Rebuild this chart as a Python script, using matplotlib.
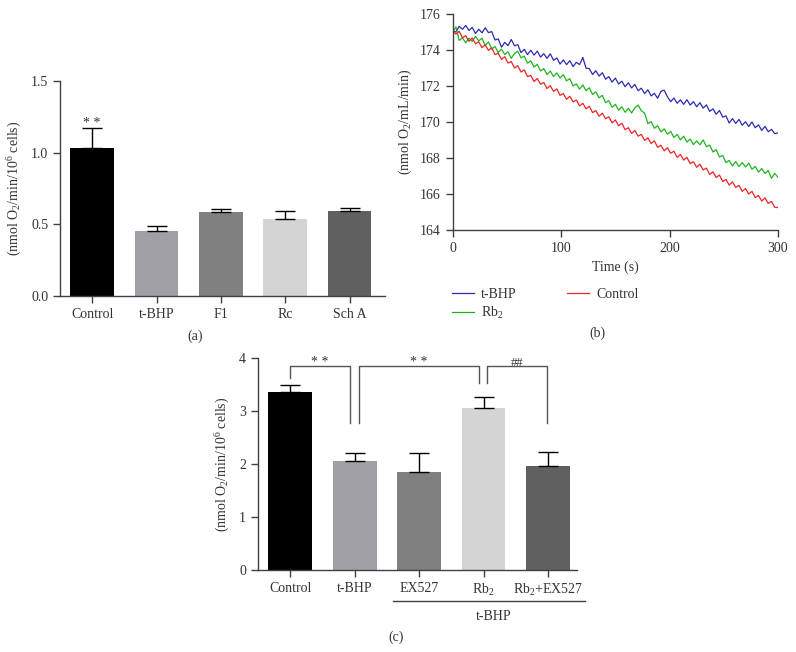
import numpy as np
import matplotlib
matplotlib.use("Agg")
import matplotlib.pyplot as plt
from matplotlib.lines import Line2D
import matplotlib.transforms as mtransforms

plt.rcParams['font.family'] = ['Liberation Serif', 'DejaVu Serif']
plt.rcParams['mathtext.fontset'] = 'custom'
plt.rcParams['mathtext.rm'] = 'Liberation Serif'
plt.rcParams['mathtext.it'] = 'Liberation Serif:italic'
plt.rcParams['font.size'] = 10

# ---------------- data ----------------
# panel (a)
cats_a = ["Control", "t-BHP", "F1", "Rc", "Sch A"]
vals_a = [1.035, 0.455, 0.585, 0.540, 0.590]
errs_a = [0.140, 0.030, 0.025, 0.050, 0.025]
cols_a = ["#000000", "#a0a0a4", "#808080", "#d4d4d4", "#606060"]

# panel (b)
time_b = np.arange(0, 301, 3)
tbhp_b = [175.05, 175.02, 175.33, 175.17, 175.38, 175.10, 175.27, 174.93, 175.17, 174.97,
          175.25, 174.98, 175.04, 174.57, 174.63, 174.17, 174.44, 174.26, 174.60, 174.25,
          174.31, 173.87, 174.05, 173.76, 174.00, 173.73, 173.95, 173.62, 173.81, 173.55,
          173.80, 173.44, 173.57, 173.23, 173.46, 173.20, 173.42, 173.09, 173.33, 173.20,
          173.60, 173.00, 172.98, 172.65, 172.86, 172.56, 172.75, 172.39, 172.53, 172.23,
          172.45, 172.12, 172.28, 171.97, 172.19, 171.90, 172.10, 171.75, 171.89, 171.59,
          171.80, 171.46, 171.60, 171.33, 171.71, 171.78, 171.42, 171.14, 171.34, 171.05,
          171.24, 170.99, 171.25, 170.95, 171.14, 170.86, 171.08, 170.78, 170.96, 170.60,
          170.74, 170.44, 170.65, 170.28, 170.35, 169.95, 170.20, 169.93, 170.15, 169.83,
          170.02, 169.76, 170.01, 169.69, 169.85, 169.54, 169.76, 169.47, 169.60, 169.36,
          169.40]
rb2_b = [175.00, 175.30, 174.55, 174.69, 174.42, 174.67, 174.49, 174.77, 174.52, 174.67,
         174.26, 174.46, 174.07, 174.21, 173.87, 174.06, 173.76, 173.92, 173.55, 173.82,
         173.95, 173.58, 173.67, 173.28, 173.41, 173.06, 173.22, 172.85, 172.98, 172.65,
         172.84, 172.54, 172.74, 172.46, 172.64, 172.30, 172.42, 172.01, 172.13, 171.84,
         172.07, 171.75, 171.91, 171.54, 171.69, 171.36, 171.49, 171.09, 171.19, 170.83,
         170.99, 170.67, 170.85, 170.55, 170.77, 170.51, 170.80, 170.95, 170.63, 170.50,
         169.92, 170.03, 169.66, 169.80, 169.46, 169.63, 169.33, 169.49, 169.15, 169.31,
         169.01, 169.22, 168.89, 169.06, 168.75, 168.96, 168.74, 169.01, 168.64, 168.72,
         168.34, 168.47, 168.06, 168.15, 167.75, 167.87, 167.56, 167.81, 167.53, 167.75,
         167.51, 167.72, 167.38, 167.54, 167.22, 167.42, 167.14, 167.31, 166.88, 167.15,
         166.93]
ctrl_b = [175.05, 174.90, 175.05, 174.70, 174.81, 174.50, 174.68, 174.36, 174.47, 174.14,
          174.30, 173.99, 174.14, 173.76, 173.83, 173.49, 173.64, 173.29, 173.37, 173.01,
          173.14, 172.79, 172.91, 172.53, 172.60, 172.26, 172.43, 172.11, 172.21, 171.87,
          172.03, 171.71, 171.85, 171.49, 171.59, 171.27, 171.44, 171.13, 171.23, 170.90,
          171.05, 170.74, 170.89, 170.53, 170.64, 170.33, 170.50, 170.19, 170.30, 169.96,
          170.12, 169.80, 169.94, 169.58, 169.69, 169.37, 169.54, 169.22, 169.32, 168.98,
          169.13, 168.81, 168.96, 168.60, 168.71, 168.40, 168.58, 168.27, 168.38, 168.04,
          168.20, 167.89, 168.04, 167.69, 167.80, 167.49, 167.66, 167.34, 167.44, 167.09,
          167.24, 166.92, 167.06, 166.70, 166.81, 166.50, 166.68, 166.37, 166.48, 166.15,
          166.31, 166.00, 166.15, 165.80, 165.92, 165.61, 165.79, 165.48, 165.59, 165.26,
          165.25]
series_names_b = ["t-BHP", "Rb$_2$", "Control"]
series_cols_b = ["#2a2ab5", "#1fb41f", "#ee2424"]

# panel (c)
cats_c = ["Control", "t-BHP", "EX527", "Rb$_2$", "Rb$_2$+EX527"]
vals_c = [3.35, 2.05, 1.84, 3.05, 1.96]
errs_c = [0.15, 0.16, 0.37, 0.22, 0.27]
cols_c = ["#000000", "#a0a0a4", "#808080", "#d4d4d4", "#606060"]
sig_labels_c = ["* *", "* *", "##"]

TXT = "#333333"
SP = "#404040"

fig = plt.figure(figsize=(7.96, 6.52), dpi=100)


def style_axes(ax):
    for s in ["top", "right"]:
        ax.spines[s].set_visible(False)
    for s in ["left", "bottom"]:
        ax.spines[s].set_color(SP)
        ax.spines[s].set_linewidth(1.0)
    ax.tick_params(direction="out", length=5, width=1.0, color=SP,
                   labelcolor=TXT, labelsize=10)


# ---------- (a) ----------
axa = fig.add_axes([60/796, 1-296/652, 325/796, 215/652])
xa = np.arange(len(cats_a))
axa.bar(xa, vals_a, width=0.68, color=cols_a, zorder=2)
axa.errorbar(xa, vals_a, yerr=[np.zeros(len(errs_a)), errs_a], fmt="none",
             ecolor="black", elinewidth=1.0, capsize=7, capthick=1.0, zorder=3)
axa.set_xlim(-0.5, 4.55)
axa.set_ylim(0, 1.5)
axa.set_yticks([0, 0.5, 1.0, 1.5])
axa.set_yticklabels(["0.0", "0.5", "1.0", "1.5"])
axa.set_xticks(xa)
axa.set_xticklabels(cats_a)
style_axes(axa)
axa.set_ylabel("(nmol O$_2$/min/10$^6$ cells)", color=TXT, fontsize=10)
axa.yaxis.set_label_coords(-0.112, 0.5)
axa.text(0, vals_a[0] + errs_a[0] - 0.02, "* *", ha="center", va="bottom",
         color=TXT, fontsize=10)
fig.text(195/796, 1-336/652, "(a)", ha="center", va="center", color=TXT, fontsize=10)

# ---------- (b) ----------
axb = fig.add_axes([452.7/796, 1-230/652, 325.3/796, 215.7/652])
handles = []
for ys, nm, c in zip([tbhp_b, rb2_b, ctrl_b], series_names_b, series_cols_b):
    ln, = axb.plot(time_b, ys, color=c, lw=0.9, label=nm)
    handles.append(ln)
axb.set_xlim(0, 300)
axb.set_ylim(164, 176)
axb.set_xticks([0, 100, 200, 300])
axb.set_yticks(np.arange(164, 177, 2))
style_axes(axb)
axb.set_ylabel("(nmol O$_2$/mL/min)", color=TXT, fontsize=10)
axb.yaxis.set_label_coords(-0.120, 0.5)
axb.set_xlabel("Time (s)", color=TXT, fontsize=10, labelpad=4)
leg = fig.legend(handles=handles, labels=series_names_b, ncol=2, frameon=False,
                 loc="upper left", bbox_to_anchor=(452/796, 1-288/652),
                 borderaxespad=0, borderpad=0, handlelength=1.6,
                 handletextpad=0.5, columnspacing=3.6, labelspacing=0.25,
                 fontsize=10)
for t in leg.get_texts():
    t.set_color(TXT)
fig.text(597/796, 1-333/652, "(b)", ha="center", va="center", color=TXT, fontsize=10)

# ---------- (c) ----------
axc = fig.add_axes([258/796, 1-570/652, 319/796, 212/652])
xc = np.arange(len(cats_c))
axc.bar(xc, vals_c, width=0.68, color=cols_c, zorder=2)
axc.errorbar(xc, vals_c, yerr=[np.zeros(len(errs_c)), errs_c], fmt="none",
             ecolor="black", elinewidth=1.0, capsize=7, capthick=1.0, zorder=3)
axc.set_xlim(-0.5, 4.45)
axc.set_ylim(0, 4)
axc.set_yticks([0, 1, 2, 3, 4])
axc.set_xticks(xc)
axc.set_xticklabels(cats_c)
style_axes(axc)
axc.set_ylabel("(nmol O$_2$/min/10$^6$ cells)", color=TXT, fontsize=10)
axc.yaxis.set_label_coords(-0.083, 0.5)

# significance brackets
BR = "#555555"
top = 3.85
brackets = [(0.0, 0.93, 3.62, 2.77), (1.07, 2.93, 2.77, 3.53), (3.05, 3.98, 3.53, 2.77)]
for (x1, x2, y1, y2), lab in zip(brackets, sig_labels_c):
    axc.plot([x1, x1, x2, x2], [y1, top, top, y2], color=BR, lw=1.0,
             clip_on=False, zorder=4)
    axc.text((x1 + x2) / 2, top - 0.05, lab, ha="center", va="bottom",
             color=TXT, fontsize=9 if lab == "##" else 10)

# t-BHP group line under labels
trans = mtransforms.blended_transform_factory(axc.transData, axc.transAxes)
axc.add_line(Line2D([1.59, 4.58], [-0.146, -0.146], transform=trans, color=SP,
                    lw=1.0, clip_on=False))
axc.text(3.15, -0.218, "t-BHP", transform=trans, ha="center", va="center",
         color=TXT, fontsize=10)
fig.text(396/796, 1-637/652, "(c)", ha="center", va="center", color=TXT, fontsize=10)

fig.savefig("out.png", dpi=100)
